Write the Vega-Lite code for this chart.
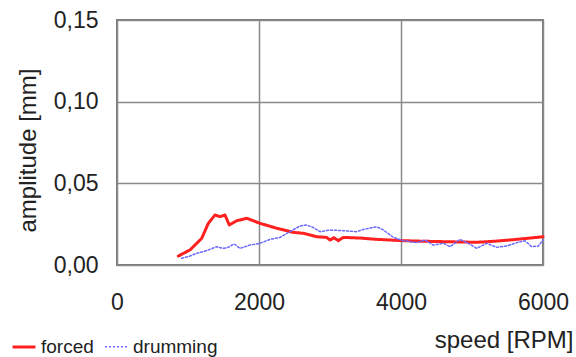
{
  "$schema": "https://vega.github.io/schema/vega-lite/v6.json",
  "autosize": "none",
  "width": 426,
  "height": 245,
  "padding": {"left": 117, "top": 20, "right": 33, "bottom": 92},
  "background": "white",
  "config": {
    "font": "Liberation Sans",
    "view": {"stroke": "#7a7a7a", "strokeWidth": 2},
    "axis": {"domain": false, "ticks": false, "gridColor": "#8a8a8a", "gridWidth": 1.5, "gridOpacity": 1, "labelColor": "#222", "titleColor": "#222", "labelFont": "Liberation Sans", "titleFont": "Liberation Sans", "titleFontWeight": "normal"}
  },
  "data": {"values": [
    {"series": "forced", "rpm": 864, "amp": 0.0055},
    {"series": "forced", "rpm": 1028, "amp": 0.0092},
    {"series": "forced", "rpm": 1193, "amp": 0.0163},
    {"series": "forced", "rpm": 1286, "amp": 0.0255},
    {"series": "forced", "rpm": 1380, "amp": 0.0306},
    {"series": "forced", "rpm": 1451, "amp": 0.0296},
    {"series": "forced", "rpm": 1521, "amp": 0.0306},
    {"series": "forced", "rpm": 1582, "amp": 0.0245},
    {"series": "forced", "rpm": 1686, "amp": 0.0271},
    {"series": "forced", "rpm": 1827, "amp": 0.0286},
    {"series": "forced", "rpm": 2014, "amp": 0.0255},
    {"series": "forced", "rpm": 2249, "amp": 0.0225},
    {"series": "forced", "rpm": 2483, "amp": 0.0200},
    {"series": "forced", "rpm": 2624, "amp": 0.0194},
    {"series": "forced", "rpm": 2812, "amp": 0.0173},
    {"series": "forced", "rpm": 2953, "amp": 0.0169},
    {"series": "forced", "rpm": 3000, "amp": 0.0153},
    {"series": "forced", "rpm": 3056, "amp": 0.0167},
    {"series": "forced", "rpm": 3117, "amp": 0.0149},
    {"series": "forced", "rpm": 3187, "amp": 0.0169},
    {"series": "forced", "rpm": 3423, "amp": 0.0165},
    {"series": "forced", "rpm": 3658, "amp": 0.0157},
    {"series": "forced", "rpm": 4024, "amp": 0.0149},
    {"series": "forced", "rpm": 4362, "amp": 0.0145},
    {"series": "forced", "rpm": 4597, "amp": 0.0143},
    {"series": "forced", "rpm": 4831, "amp": 0.0141},
    {"series": "forced", "rpm": 5066, "amp": 0.0139},
    {"series": "forced", "rpm": 5300, "amp": 0.0145},
    {"series": "forced", "rpm": 5535, "amp": 0.0153},
    {"series": "forced", "rpm": 5770, "amp": 0.0163},
    {"series": "forced", "rpm": 6000, "amp": 0.0173},
    {"series": "drumming", "rpm": 911, "amp": 0.0041},
    {"series": "drumming", "rpm": 1028, "amp": 0.0055},
    {"series": "drumming", "rpm": 1122, "amp": 0.0071},
    {"series": "drumming", "rpm": 1216, "amp": 0.0082},
    {"series": "drumming", "rpm": 1310, "amp": 0.0096},
    {"series": "drumming", "rpm": 1404, "amp": 0.0112},
    {"series": "drumming", "rpm": 1497, "amp": 0.0102},
    {"series": "drumming", "rpm": 1568, "amp": 0.0108},
    {"series": "drumming", "rpm": 1648, "amp": 0.0129},
    {"series": "drumming", "rpm": 1732, "amp": 0.0102},
    {"series": "drumming", "rpm": 1873, "amp": 0.0122},
    {"series": "drumming", "rpm": 2014, "amp": 0.0133},
    {"series": "drumming", "rpm": 2155, "amp": 0.0157},
    {"series": "drumming", "rpm": 2296, "amp": 0.0169},
    {"series": "drumming", "rpm": 2437, "amp": 0.0204},
    {"series": "drumming", "rpm": 2577, "amp": 0.0239},
    {"series": "drumming", "rpm": 2671, "amp": 0.0245},
    {"series": "drumming", "rpm": 2765, "amp": 0.0229},
    {"series": "drumming", "rpm": 2859, "amp": 0.0204},
    {"series": "drumming", "rpm": 3000, "amp": 0.0214},
    {"series": "drumming", "rpm": 3187, "amp": 0.0210},
    {"series": "drumming", "rpm": 3376, "amp": 0.0204},
    {"series": "drumming", "rpm": 3470, "amp": 0.0218},
    {"series": "drumming", "rpm": 3658, "amp": 0.0234},
    {"series": "drumming", "rpm": 3752, "amp": 0.0214},
    {"series": "drumming", "rpm": 3893, "amp": 0.0169},
    {"series": "drumming", "rpm": 4034, "amp": 0.0149},
    {"series": "drumming", "rpm": 4221, "amp": 0.0137},
    {"series": "drumming", "rpm": 4338, "amp": 0.0153},
    {"series": "drumming", "rpm": 4455, "amp": 0.0122},
    {"series": "drumming", "rpm": 4597, "amp": 0.0133},
    {"series": "drumming", "rpm": 4690, "amp": 0.0112},
    {"series": "drumming", "rpm": 4831, "amp": 0.0157},
    {"series": "drumming", "rpm": 4948, "amp": 0.0133},
    {"series": "drumming", "rpm": 5066, "amp": 0.0102},
    {"series": "drumming", "rpm": 5207, "amp": 0.0133},
    {"series": "drumming", "rpm": 5348, "amp": 0.0108},
    {"series": "drumming", "rpm": 5488, "amp": 0.0116},
    {"series": "drumming", "rpm": 5629, "amp": 0.0137},
    {"series": "drumming", "rpm": 5746, "amp": 0.0149},
    {"series": "drumming", "rpm": 5840, "amp": 0.0112},
    {"series": "drumming", "rpm": 5934, "amp": 0.0116},
    {"series": "drumming", "rpm": 6000, "amp": 0.0153}
  ]},
  "mark": {"type": "line", "strokeJoin": "round", "strokeCap": "round"},
  "encoding": {
    "x": {
      "field": "rpm", "type": "quantitative",
      "scale": {"domain": [0, 6000], "nice": false, "zero": false},
      "axis": {
        "values": [0, 2000, 4000, 6000], "format": "d",
        "labelFontSize": 23, "labelPadding": 26, "labelFlush": false,
        "title": "speed [RPM]", "titleFontSize": 24,
        "titleX": 456, "titleY": 82, "titleAlign": "right", "titleBaseline": "alphabetic",
        "grid": true
      }
    },
    "y": {
      "field": "amp", "type": "quantitative",
      "scale": {"domain": [0, 0.15], "nice": false},
      "axis": {
        "values": [0, 0.05, 0.1, 0.15],
        "labelExpr": "replace(format(datum.value, '.2f'), '.', ',')",
        "labelFontSize": 23, "labelPadding": 19,
        "title": "amplitude [mm]", "titleFontSize": 24,
        "titleX": -89, "titleY": 130, "titleAngle": -90, "titleAlign": "center", "titleBaseline": "middle",
        "grid": true
      }
    },
    "color": {
      "field": "series", "type": "nominal",
      "scale": {"domain": ["forced", "drumming"], "range": ["#ff2020", "#6a6aff"]},
      "legend": {
        "title": null, "orient": "none", "direction": "horizontal",
        "legendX": -106, "legendY": 314,
        "labelFontSize": 19, "labelColor": "#222", "labelFont": "Liberation Sans",
        "symbolType": "stroke", "symbolSize": 529, "labelOffset": 4, "columnPadding": 8
      }
    },
    "strokeDash": {
      "field": "series", "type": "nominal",
      "scale": {"domain": ["forced", "drumming"], "range": [[1, 0], [2, 2]]},
      "legend": null
    },
    "strokeWidth": {
      "field": "series", "type": "nominal",
      "scale": {"domain": ["forced", "drumming"], "range": [3, 1.5]},
      "legend": null
    }
  }
}
